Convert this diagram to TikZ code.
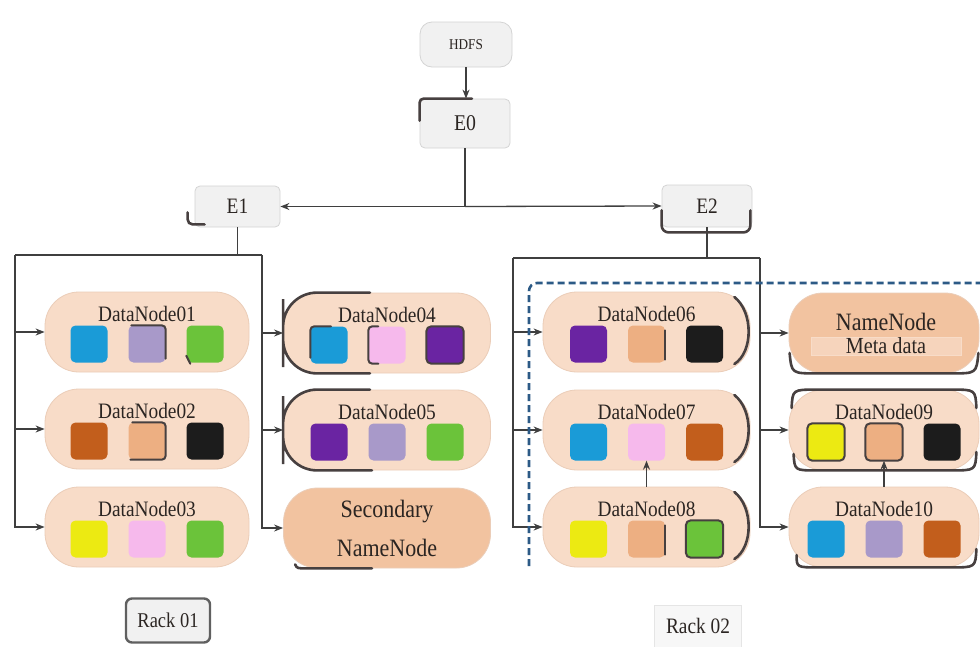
\documentclass[tikz,border=0pt]{standalone}
\usepackage{fontspec}
\setmainfont{Liberation Serif}[FakeStretch=0.88]
\usetikzlibrary{arrows.meta,calc}

% palette
\definecolor{nodefill}{HTML}{F8DCC8}
\definecolor{namefill}{HTML}{F2C3A0}
\definecolor{nodeedge}{HTML}{EBCDB8}
\definecolor{boxfill}{HTML}{F1F1F1}
\definecolor{boxedge}{HTML}{D4D4D4}
\definecolor{ink}{HTML}{2B2522}
\definecolor{wire}{HTML}{3F3F3F}
\definecolor{trimc}{HTML}{474040}
\definecolor{rackblue}{HTML}{2C5A86}
\definecolor{cblue}{HTML}{1A9BD7}
\definecolor{clav}{HTML}{A899C9}
\definecolor{cgreen}{HTML}{6BC33A}
\definecolor{cbrown}{HTML}{C25E1C}
\definecolor{cpeach}{HTML}{EDAF82}
\definecolor{cblack}{HTML}{1C1C1C}
\definecolor{cyellow}{HTML}{ECEA12}
\definecolor{cpink}{HTML}{F6B9EC}
\definecolor{cpurple}{HTML}{6A24A2}

\tikzset{
  ebox/.style={draw=boxedge, line width=0.8pt, fill=boxfill, rounded corners=5pt,
    inner sep=0pt, text=ink},
  dnbox/.style={draw=nodeedge, line width=0.8pt, fill=nodefill, rounded corners=34pt,
    minimum height=80pt, inner sep=0pt},
  nnbox/.style={dnbox, fill=namefill},
  chip/.style={minimum size=37pt, rounded corners=5pt, inner sep=0pt},
  lbl/.style={font=\fontsize{22}{23}\selectfont, text=ink, inner sep=0pt},
  arr/.style={draw=wire, line width=1.3pt, -{Stealth[length=9pt,width=7pt]}},
  wireline/.style={draw=wire, line width=1.3pt},
  trim/.style={draw=trimc, line width=2.6pt, line cap=round},
  chipedge/.style={draw=trimc, line width=2pt, line cap=round},
  rackline/.style={draw=rackblue, line width=2.6pt, dash pattern=on 7pt off 4pt, rounded corners=8pt},
}

% a data node: name, x, y, width, label, three block colours
\newcommand\hdnode[8]{%
  \node[dnbox, minimum width=#4] (#1) at (#2,#3) {};
  \node[lbl] (#1t) at ($(#1)+(0,-18)$) {#5};
  \node[chip, fill=#6] (#1a) at ($(#1)+(-58,12)$) {};
  \node[chip, fill=#7] (#1b) at ($(#1)+(0,12)$) {};
  \node[chip, fill=#8] (#1c) at ($(#1)+(58,12)$) {};
}

\begin{document}
\begin{tikzpicture}[x=1pt,y=-1pt]
\fill[white] (0,0) rectangle (980,646);
\useasboundingbox (0,0) rectangle (980,646);

% top of the tree
\node[ebox, rounded corners=12pt, minimum width=92pt, minimum height=45pt,
  font=\fontsize{15}{16}\selectfont] (hdfs) at (466,44.5) {HDFS};
\node[ebox, minimum width=90pt, minimum height=49pt,
  font=\fontsize{22.5}{23}\selectfont] (e0) at (465,123.5) {E0};
\node[ebox, minimum width=85pt, minimum height=41pt,
  font=\fontsize{22}{23}\selectfont] (e1) at (237.5,206.5) {E1};
\node[ebox, minimum width=90pt, minimum height=42pt,
  font=\fontsize{22}{23}\selectfont] (e2) at (707,206) {E2};

% rack 01
\hdnode{dn01}{147}{332}{204pt}{DataNode01}{cblue}{clav}{cgreen}
\hdnode{dn02}{147}{429}{204pt}{DataNode02}{cbrown}{cpeach}{cblack}
\hdnode{dn03}{147}{527}{204pt}{DataNode03}{cyellow}{cpink}{cgreen}
\hdnode{dn04}{387}{333}{207pt}{DataNode04}{cblue}{cpink}{cpurple}
\hdnode{dn05}{387}{430}{207pt}{DataNode05}{cpurple}{clav}{cgreen}
\node[nnbox, minimum width=207pt, align=center,
  font=\fontsize{25}{39}\selectfont, text=ink] (sec) at (387,528) {Secondary\\NameNode};

% rack 02
\hdnode{dn06}{646.5}{332}{207pt}{DataNode06}{cpurple}{cpeach}{cblack}
\hdnode{dn07}{646.5}{430}{207pt}{DataNode07}{cblue}{cpink}{cbrown}
\hdnode{dn08}{646.5}{527}{207pt}{DataNode08}{cyellow}{cpeach}{cgreen}
\node[nnbox, minimum width=190pt] (nn) at (884,333) {};
\node[fill=nodefill!70!namefill, draw=nodefill, line width=0.6pt, minimum width=150pt,
  minimum height=18pt, inner sep=0pt] (meta) at (886,346) {};
\node[inner sep=0pt, text=ink, font=\fontsize{25}{26}\selectfont] (nnt) at (886,322) {NameNode};
\node[inner sep=0pt, text=ink, font=\fontsize{23}{24}\selectfont] (metat) at (886,346) {Meta data};
\hdnode{dn09}{884}{430}{190pt}{DataNode09}{cyellow}{cpeach}{cblack}
\hdnode{dn10}{884}{527}{190pt}{DataNode10}{cblue}{clav}{cbrown}

% connectors of the tree
\draw[arr] (hdfs.south) -- (hdfs.south |- e0.north);
\coordinate (j0) at (e0.south |- e1.east);
\draw[wireline] (e0.south) -- (j0);
\draw[arr] (j0) -- (e1.east);
\draw[arr] (j0) -- (e2.west);

\coordinate (b1) at (237.5,255);
\coordinate (b1l) at (15,255);
\coordinate (b1r) at (262,255);
\draw[wireline] (e1.south) -- (b1);
\draw[wireline] (b1l) -- (b1r);
\draw[arr] (b1l) |- (dn01.west);
\draw[arr] (b1l) |- (dn02.west);
\draw[arr] (b1l) |- (dn03.west);
\draw[arr] (b1r) |- (dn04.west);
\draw[arr] (b1r) |- (dn05.west);
\draw[arr] (b1r) |- (sec.west);

\coordinate (b2) at (707,258);
\coordinate (b2l) at (513,258);
\coordinate (b2r) at (760,258);
\draw[wireline] (e2.south) -- (b2);
\draw[wireline] (b2l) -- (b2r);
\draw[arr] (b2l) |- (dn06.west);
\draw[arr] (b2l) |- (dn07.west);
\draw[arr] (b2l) |- (dn08.west);
\draw[arr] (b2r) |- (nn.west);
\draw[arr] (b2r) |- (dn09.west);
\draw[arr] (b2r) |- (dn10.west);

\draw[arr] (dn07b.south |- dn08.north) -- (dn07b.south);
\draw[arr] (dn09b.south |- dn10.north) -- (dn09b.south);

% rack 02 boundary
\draw[rackline] (529,566) |- (980,283);

% dark trims on the boxes
\draw[trim, rounded corners=4pt] ($(e0.north west)+(0,22)$) |- ($(e0.north)+(7,0)$);
\draw[trim, rounded corners=5pt] ($(e1.south west)+(-7,-15)$) |- ($(e1.south west)+(10,-3)$);
\draw[trim, rounded corners=7pt] ($(e2.south west)+(0,-17)$) |- ($(e2.south east)+(-2,5)$)
  -- ($(e2.south east)+(-2,-17)$);

\draw[trim, rounded corners=34pt] ($(dn04.north)+(-17,0)$) -| (dn04.west) |- ($(dn04.south)+(-17,0)$);
\draw[trim, rounded corners=34pt] ($(dn05.north)+(-17,0)$) -| (dn05.west) |- ($(dn05.south)+(-15,0)$);
\draw[trim] ($(sec.south west)+(12,-4)$) .. controls ($(sec.south west)+(14,0)$) .. ($(sec.south west)+(24,0)$)
  -- ($(sec.south)+(-15,0)$);

\foreach \n in {dn06,dn07,dn08}{
  \draw[trim] ($(\n.east)+(-16,-35)$) .. controls ($(\n.east)+(3,-20)$) and ($(\n.east)+(3,20)$) .. ($(\n.east)+(-16,32)$);
}
\draw[trim] ($(nn.west)+(1,20)$) .. controls ($(nn.south west)+(3,0)$) .. ($(nn.south west)+(28,0)$)
  -- ($(nn.south east)+(-28,0)$) .. controls ($(nn.south east)+(-3,0)$) .. ($(nn.east)+(-1,20)$);
\draw[trim] ($(dn09.west)+(3,-22)$) .. controls ($(dn09.north west)+(4,0)$) .. ($(dn09.north west)+(28,0)$)
  -- ($(dn09.north east)+(-28,0)$) .. controls ($(dn09.north east)+(-4,0)$) .. ($(dn09.east)+(-3,-22)$);
\draw[trim] ($(dn09.west)+(5,24)$) .. controls ($(dn09.south west)+(6,0)$) .. ($(dn09.south west)+(28,0)$)
  -- ($(dn09.south east)+(-28,0)$) .. controls ($(dn09.south east)+(-4,0)$) .. ($(dn09.east)+(-3,22)$);
\draw[trim] ($(dn10.west)+(8,28)$) .. controls ($(dn10.south west)+(8,0)$) .. ($(dn10.south west)+(30,0)$)
  -- ($(dn10.south east)+(-28,0)$) .. controls ($(dn10.south east)+(-4,0)$) .. ($(dn10.east)+(-3,22)$);

% dark edges on some blocks
\draw[chipedge, rounded corners=4pt] ($(dn01b.north west)+(3,0)$) -- (dn01b.north east) -- ($(dn01b.south east)+(0,-4)$);
\draw[chipedge] ($(dn01c.south west)+(0,-7)$) -- ($(dn01c.south west)+(4,1)$);
\draw[chipedge, rounded corners=4pt] ($(dn02b.north west)+(4,0)$) -- (dn02b.north east) -- (dn02b.south east)
  -- ($(dn02b.south west)+(2,0)$);
\draw[chipedge, rounded corners=4pt] ($(dn04a.south west)+(0,-6)$) -- (dn04a.north west) -- ($(dn04a.north)+(2,0)$);
\draw[chipedge, rounded corners=4pt] ($(dn04b.north west)+(10,0)$) -- (dn04b.north west) -- (dn04b.south west)
  -- ($(dn04b.south west)+(10,0)$);
\draw[chipedge, rounded corners=5pt] (dn04c.north west) rectangle (dn04c.south east);
\draw[chipedge] ($(dn06b.north east)+(0,5)$) -- ($(dn06b.south east)+(0,-3)$);
\draw[chipedge] ($(dn08b.north east)+(0,5)$) -- ($(dn08b.south east)+(0,-3)$);
\draw[chipedge, rounded corners=5pt] (dn08c.north west) rectangle (dn08c.south east);
\draw[chipedge, rounded corners=5pt] (dn09a.north west) rectangle (dn09a.south east);
\draw[chipedge, rounded corners=5pt] (dn09b.north west) rectangle (dn09b.south east);

% rack labels
\node[draw=gray!75!black, line width=2.4pt, fill=boxfill, rounded corners=6pt,
  minimum width=84pt, minimum height=44pt, inner sep=0pt, text=ink,
  font=\fontsize{21}{22}\selectfont] (r1) at (168,620.5) {Rack 01};
\node[draw=boxedge!60, line width=0.6pt, fill=boxfill!60, minimum width=87pt,
  minimum height=42pt, inner sep=0pt, text=ink,
  font=\fontsize{22}{23}\selectfont] (r2) at (698,626) {Rack 02};
\end{tikzpicture}
\end{document}
